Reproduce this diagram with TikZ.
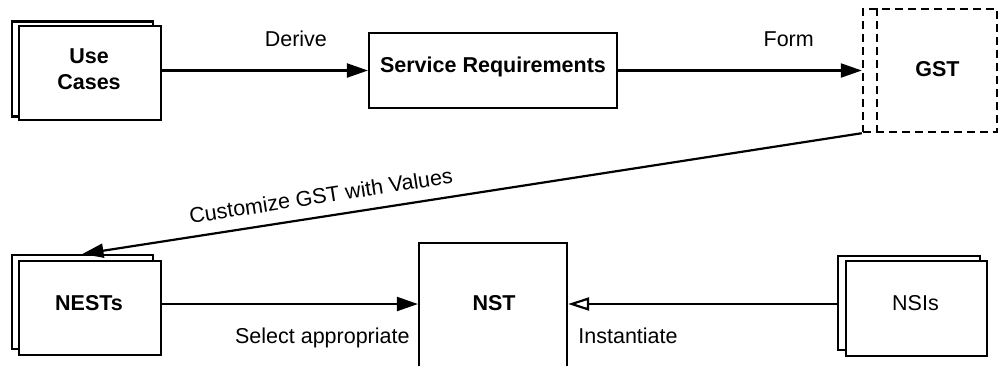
\documentclass[tikz,border=0pt]{standalone}
\usepackage{fontspec}
\setmainfont{Liberation Sans}
\usetikzlibrary{arrows.meta}
\begin{document}
\begin{tikzpicture}[x=0.5pt,y=-0.5pt,
  box/.style={draw,line width=1.1pt,fill=white,inner sep=0pt},
  lbl/.style={font=\fontsize{10.75pt}{13.5pt}\selectfont,inner sep=0pt},
  blbl/.style={font=\fontsize{10.75pt}{13.5pt}\selectfont\bfseries,inner sep=0pt,align=center},
  arr/.style={line width=1.1pt,-{Triangle[length=10.5pt,width=7pt]}},
  oarr/.style={line width=1.1pt,-{Triangle[open,length=10.5pt,width=6.5pt,line width=1.1pt]}},
  dsh/.style={line width=1.2pt,dash pattern=on 4pt off 2.5pt}
]
\clip (0,0) rectangle (1004,365);
\fill[white] (0,0) rectangle (1004,365);
% Use Cases
\node[box,minimum width=70.5pt,minimum height=47.5pt] (ucB) at (82.5,69) {};
\node[box,minimum width=71pt,minimum height=47pt] (ucF) at (90,73) {};
\node[blbl] (ucT) at (89,69) {Use\\[-0.5pt]Cases};
% Service Requirements
\node[box,minimum width=124pt,minimum height=37.5pt] (sr) at (493,70.5) {};
\node[blbl] (srT) at (493,67) {Service Requirements};
% GST
\node[draw,dsh,minimum width=67pt,minimum height=61.5pt,inner sep=0pt] (gst) at (930,70.5) {};
\draw[dsh] ([xshift=7.5pt]gst.north west) -- ([xshift=7.5pt]gst.south west);
\node[blbl] (gstT) at (937.5,69) {GST};
% NESTs
\node[box,minimum width=70.5pt,minimum height=47pt] (nestsB) at (82.5,302) {};
\node[box,minimum width=71pt,minimum height=47pt] (nestsF) at (90,308) {};
\node[blbl] (nestsT) at (89,303) {NESTs};
% NST
\node[box,minimum width=74pt,minimum height=80pt] (nst) at (493,323) {};
\node[blbl] (nstT) at (494,303) {NST};
% NSIs
\node[box,minimum width=71pt,minimum height=47pt] (nsiB) at (909,303) {};
\node[box,minimum width=70.5pt,minimum height=47.5pt] (nsiF) at (916.5,308.5) {};
\node[lbl] (nsiT) at (915.5,303) {NSIs};
% connectors
\draw[arr] (ucF.east |- sr.west) -- node[lbl,above=11.5pt,pos=0.65] (dl) {Derive} (sr.west);
\draw[arr] (sr.east) -- node[lbl,above=11.5pt,pos=0.70] (fl) {Form} (gst.west);
\draw[arr] (gst.south west) -- node[lbl,sloped,above=6pt,pos=0.69] (cl) {Customize GST with Values} (nestsB.north);
\coordinate (ay) at (0,304);
\draw[arr] (nestsF.east |- ay) -- (nst.west |- ay);
\draw[oarr] (nsiB.west |- ay) -- (nst.east |- ay);
\node[lbl,anchor=base east] (sl) at (410,343) {Select appropriate};
\node[lbl,anchor=base west] (il) at (578,343) {Instantiate};
\end{tikzpicture}
\end{document}
